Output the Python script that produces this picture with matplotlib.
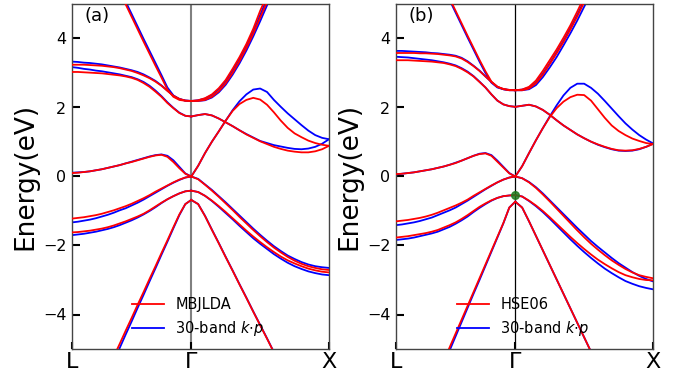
import numpy as np
import matplotlib
matplotlib.use("Agg")
import matplotlib.pyplot as plt
from matplotlib.lines import Line2D

nan = np.nan

# fractional distance from Gamma (0) to the zone edge (1), same grid on both sides
q = [0, .05, .1, .15, .2, .25, .3, .35, .4, .45, .5, .55, .6, .65, .7, .75, .8, .85, .9, .95, 1.0]
KL = 0.866  # |Gamma-L| / |Gamma-X|
k_labels = ["L", "Γ", "X"]
panel_tags = ["(a)", "(b)"]
legend_a = ["MBJLDA", r"30-band $k{\cdot}p$"]
legend_b = ["HSE06", r"30-band $k{\cdot}p$"]
green_point_b = -0.54

# ---------------- panel (a): Gamma -> L side ----------------
aL_c1_r = [2.19, 2.195, 2.22, 2.31, 2.52, 2.87, 3.21, 3.56, 3.91, 4.27, 4.63, 4.99, 5.35, nan, nan, nan, nan, nan, nan, nan, nan]
aL_c1_b = [2.19, 2.2, 2.24, 2.35, 2.58, 2.94, 3.29, 3.64, 3.99, 4.35, 4.71, 5.07, 5.43, nan, nan, nan, nan, nan, nan, nan, nan]
aL_A_r = [2.19, 2.2, 2.25, 2.34, 2.48, 2.63, 2.75, 2.85, 2.93, 3.0, 3.06, 3.1, 3.14, 3.17, 3.19, 3.21, 3.22, 3.23, 3.24, 3.24, 3.24]
aL_A_b = [2.19, 2.2, 2.25, 2.34, 2.49, 2.64, 2.77, 2.87, 2.96, 3.03, 3.08, 3.12, 3.16, 3.19, 3.22, 3.25, 3.27, 3.29, 3.3, 3.32, 3.33]
aL_B_r = [1.74, 1.76, 1.84, 1.98, 2.13, 2.31, 2.46, 2.6, 2.71, 2.8, 2.86, 2.9, 2.93, 2.95, 2.97, 2.99, 3.0, 3.01, 3.02, 3.03, 3.03]
aL_B_b = [1.74, 1.76, 1.85, 1.99, 2.15, 2.33, 2.49, 2.63, 2.74, 2.82, 2.88, 2.92, 2.96, 2.99, 3.02, 3.05, 3.07, 3.1, 3.12, 3.15, 3.17]
aL_D_r = [0, 0.08, 0.24, 0.42, 0.57, 0.63, 0.61, 0.57, 0.52, 0.47, 0.42, 0.38, 0.33, 0.29, 0.25, 0.21, 0.18, 0.15, 0.13, 0.11, 0.10]
aL_D_b = [0, 0.09, 0.28, 0.47, 0.6, 0.64, 0.62, 0.58, 0.53, 0.48, 0.43, 0.38, 0.33, 0.29, 0.25, 0.21, 0.18, 0.15, 0.13, 0.12, 0.11]
aL_HH_r = [0, -0.03, -0.09, -0.17, -0.26, -0.35, -0.44, -0.54, -0.63, -0.71, -0.79, -0.86, -0.92, -0.98, -1.03, -1.08, -1.12, -1.15, -1.18, -1.2, -1.22]
aL_HH_b = [0, -0.03, -0.1, -0.18, -0.27, -0.37, -0.47, -0.57, -0.67, -0.76, -0.84, -0.92, -0.98, -1.05, -1.11, -1.16, -1.21, -1.25, -1.28, -1.31, -1.33]
aL_LH_r = [-0.41, -0.43, -0.49, -0.57, -0.66, -0.76, -0.87, -0.98, -1.08, -1.16, -1.23, -1.3, -1.36, -1.42, -1.47, -1.51, -1.54, -1.57, -1.59, -1.61, -1.62]
aL_LH_b = [-0.41, -0.43, -0.49, -0.57, -0.66, -0.77, -0.89, -1.0, -1.1, -1.19, -1.27, -1.34, -1.41, -1.47, -1.52, -1.56, -1.6, -1.63, -1.66, -1.68, -1.70]
aL_SO_r = [-0.68, -0.8, -1.1, -1.47, -1.85, -2.22, -2.6, -2.97, -3.35, -3.72, -4.1, -4.47, -4.85, -5.22, nan, nan, nan, nan, nan, nan, nan]
aL_SO_b = [-0.68, -0.8, -1.12, -1.5, -1.89, -2.27, -2.66, -3.04, -3.43, -3.81, -4.2, -4.58, -4.97, -5.36, nan, nan, nan, nan, nan, nan, nan]

# ---------------- panel (a): Gamma -> X side ----------------
aX_c1_r = [2.19, 2.21, 2.27, 2.38, 2.56, 2.8, 3.12, 3.46, 3.84, 4.28, 4.8, 5.25, nan, nan, nan, nan, nan, nan, nan, nan, nan]
aX_c1_b = [2.19, 2.21, 2.26, 2.36, 2.53, 2.76, 3.07, 3.41, 3.78, 4.2, 4.68, 5.15, nan, nan, nan, nan, nan, nan, nan, nan, nan]
aX_c2_r = [2.19, 2.19, 2.22, 2.31, 2.47, 2.7, 3.0, 3.34, 3.72, 4.14, 4.6, 5.06, nan, nan, nan, nan, nan, nan, nan, nan, nan]
aX_c2_b = [2.19, 2.19, 2.21, 2.29, 2.44, 2.66, 2.95, 3.28, 3.65, 4.06, 4.5, 4.96, 5.4, nan, nan, nan, nan, nan, nan, nan, nan]
aX_B_r = [1.74, 1.78, 1.81, 1.77, 1.68, 1.57, 1.46, 1.34, 1.22, 1.12, 1.02, 0.94, 0.86, 0.8, 0.75, 0.72, 0.70, 0.7, 0.73, 0.79, 0.89]
aX_B_b = [1.74, 1.78, 1.81, 1.77, 1.68, 1.57, 1.46, 1.34, 1.23, 1.13, 1.03, 0.97, 0.91, 0.87, 0.83, 0.8, 0.79, 0.81, 0.86, 0.95, 1.08]
aX_C_r = [0, 0.31, 0.68, 1.01, 1.31, 1.62, 1.9, 2.1, 2.22, 2.28, 2.23, 2.08, 1.86, 1.62, 1.41, 1.25, 1.14, 1.04, 0.97, 0.92, 0.89]
aX_C_b = [0, 0.31, 0.68, 1.01, 1.31, 1.62, 1.92, 2.18, 2.38, 2.52, 2.55, 2.45, 2.22, 2.02, 1.83, 1.66, 1.49, 1.33, 1.2, 1.12, 1.08]
aX_HH_r = [0, -0.08, -0.24, -0.41, -0.59, -0.78, -0.97, -1.17, -1.36, -1.55, -1.73, -1.9, -2.06, -2.2, -2.33, -2.44, -2.53, -2.6, -2.65, -2.69, -2.71]
aX_HH_b = [0, -0.07, -0.23, -0.39, -0.57, -0.75, -0.94, -1.13, -1.32, -1.51, -1.69, -1.86, -2.02, -2.16, -2.29, -2.39, -2.48, -2.55, -2.6, -2.63, -2.65]
aX_LH_r = [-0.41, -0.45, -0.56, -0.70, -0.86, -1.03, -1.21, -1.39, -1.57, -1.74, -1.9, -2.05, -2.19, -2.32, -2.43, -2.52, -2.6, -2.67, -2.72, -2.76, -2.78]
aX_LH_b = [-0.41, -0.45, -0.56, -0.71, -0.88, -1.06, -1.24, -1.43, -1.61, -1.79, -1.95, -2.1, -2.25, -2.38, -2.5, -2.6, -2.68, -2.75, -2.8, -2.84, -2.86]
aX_SO_r = [-0.68, -0.8, -1.15, -1.55, -1.94, -2.34, -2.73, -3.13, -3.52, -3.92, -4.31, -4.7, -5.1, nan, nan, nan, nan, nan, nan, nan, nan]
aX_SO_b = [-0.68, -0.8, -1.14, -1.54, -1.93, -2.33, -2.72, -3.12, -3.51, -3.91, -4.3, -4.69, -5.09, nan, nan, nan, nan, nan, nan, nan, nan]

# ---------------- panel (b): Gamma -> L side ----------------
bL_c1_r = [2.5, 2.51, 2.54, 2.6, 2.75, 3.05, 3.38, 3.73, 4.08, 4.44, 4.8, 5.16, nan, nan, nan, nan, nan, nan, nan, nan, nan]
bL_c1_b = [2.5, 2.51, 2.53, 2.58, 2.72, 3.0, 3.33, 3.68, 4.03, 4.39, 4.75, 5.11, nan, nan, nan, nan, nan, nan, nan, nan, nan]
bL_A_r = [2.5, 2.5, 2.53, 2.6, 2.74, 2.9, 3.06, 3.2, 3.32, 3.42, 3.48, 3.51, 3.53, 3.55, 3.56, 3.57, 3.57, 3.58, 3.58, 3.58, 3.58]
bL_A_b = [2.5, 2.5, 2.53, 2.6, 2.74, 2.9, 3.07, 3.21, 3.34, 3.44, 3.5, 3.53, 3.55, 3.57, 3.58, 3.6, 3.61, 3.62, 3.63, 3.64, 3.64]
bL_B_r = [2.02, 2.04, 2.09, 2.2, 2.38, 2.58, 2.74, 2.9, 3.02, 3.12, 3.2, 3.25, 3.29, 3.31, 3.33, 3.34, 3.35, 3.36, 3.37, 3.37, 3.37]
bL_B_b = [2.02, 2.04, 2.09, 2.2, 2.38, 2.58, 2.75, 2.91, 3.04, 3.14, 3.22, 3.27, 3.31, 3.34, 3.37, 3.39, 3.41, 3.43, 3.45, 3.46, 3.47]
bL_D_r = [0, 0.09, 0.26, 0.43, 0.6, 0.67, 0.65, 0.6, 0.53, 0.46, 0.39, 0.34, 0.29, 0.25, 0.21, 0.18, 0.15, 0.12, 0.1, 0.08, 0.07]
bL_D_b = [0, 0.1, 0.28, 0.46, 0.62, 0.68, 0.66, 0.6, 0.53, 0.46, 0.4, 0.34, 0.29, 0.25, 0.21, 0.18, 0.15, 0.12, 0.1, 0.08, 0.06]
bL_HH_r = [0, -0.03, -0.09, -0.17, -0.26, -0.36, -0.46, -0.56, -0.67, -0.76, -0.84, -0.91, -0.98, -1.05, -1.11, -1.16, -1.2, -1.23, -1.26, -1.28, -1.3]
bL_HH_b = [0, -0.03, -0.09, -0.17, -0.27, -0.37, -0.48, -0.59, -0.7, -0.8, -0.9, -0.98, -1.05, -1.12, -1.19, -1.24, -1.29, -1.33, -1.36, -1.39, -1.41]
bL_LH_r = [-0.54, -0.55, -0.57, -0.62, -0.69, -0.78, -0.88, -1.0, -1.12, -1.23, -1.33, -1.41, -1.48, -1.55, -1.6, -1.64, -1.67, -1.7, -1.73, -1.75, -1.77]
bL_LH_b = [-0.54, -0.55, -0.57, -0.62, -0.7, -0.8, -0.91, -1.03, -1.16, -1.27, -1.37, -1.46, -1.53, -1.6, -1.65, -1.69, -1.73, -1.77, -1.8, -1.82, -1.84]
bL_SO_r = [-0.73, -0.9, -1.35, -1.75, -2.15, -2.55, -2.95, -3.35, -3.75, -4.15, -4.55, -4.95, -5.35, nan, nan, nan, nan, nan, nan, nan, nan]
bL_SO_b = [-0.73, -0.9, -1.36, -1.77, -2.18, -2.59, -3.0, -3.4, -3.81, -4.22, -4.63, -5.04, nan, nan, nan, nan, nan, nan, nan, nan, nan]

# ---------------- panel (b): Gamma -> X side ----------------
bX_c1_r = [2.5, 2.52, 2.6, 2.78, 3.06, 3.37, 3.68, 4.02, 4.38, 4.78, 5.2, nan, nan, nan, nan, nan, nan, nan, nan, nan, nan]
bX_c1_b = [2.5, 2.52, 2.58, 2.72, 2.98, 3.28, 3.6, 3.93, 4.3, 4.68, 5.1, nan, nan, nan, nan, nan, nan, nan, nan, nan, nan]
bX_c2_r = [2.5, 2.5, 2.55, 2.7, 2.95, 3.26, 3.57, 3.9, 4.26, 4.64, 5.05, nan, nan, nan, nan, nan, nan, nan, nan, nan, nan]
bX_c2_b = [2.5, 2.5, 2.53, 2.65, 2.88, 3.16, 3.46, 3.8, 4.15, 4.52, 4.92, 5.3, nan, nan, nan, nan, nan, nan, nan, nan, nan]
bX_B_r = [2.02, 2.05, 2.08, 2.03, 1.93, 1.79, 1.63, 1.48, 1.35, 1.22, 1.11, 1.01, 0.93, 0.86, 0.8, 0.76, 0.75, 0.76, 0.8, 0.86, 0.94]
bX_B_b = [2.02, 2.05, 2.08, 2.03, 1.93, 1.79, 1.63, 1.48, 1.35, 1.22, 1.11, 1.01, 0.92, 0.85, 0.79, 0.75, 0.74, 0.75, 0.79, 0.86, 0.95]
bX_C_r = [0, 0.3, 0.68, 1.05, 1.4, 1.72, 1.98, 2.17, 2.3, 2.37, 2.36, 2.2, 1.95, 1.7, 1.48, 1.32, 1.2, 1.1, 1.03, 0.97, 0.94]
bX_C_b = [0, 0.3, 0.68, 1.05, 1.4, 1.74, 2.06, 2.35, 2.57, 2.69, 2.69, 2.57, 2.4, 2.19, 1.97, 1.75, 1.54, 1.36, 1.2, 1.07, 0.96]
bX_HH_r = [0, -0.05, -0.17, -0.33, -0.52, -0.72, -0.93, -1.14, -1.35, -1.56, -1.76, -1.95, -2.12, -2.28, -2.43, -2.56, -2.68, -2.78, -2.86, -2.91, -2.95]
bX_HH_b = [0, -0.05, -0.16, -0.31, -0.49, -0.69, -0.89, -1.09, -1.29, -1.49, -1.68, -1.87, -2.04, -2.2, -2.36, -2.51, -2.64, -2.77, -2.88, -2.97, -3.04]
bX_LH_r = [-0.54, -0.58, -0.7, -0.84, -1.0, -1.18, -1.37, -1.56, -1.75, -1.93, -2.1, -2.26, -2.41, -2.54, -2.66, -2.77, -2.86, -2.92, -2.97, -3.0, -3.01]
bX_LH_b = [-0.54, -0.58, -0.71, -0.86, -1.03, -1.22, -1.42, -1.62, -1.82, -2.01, -2.19, -2.36, -2.52, -2.67, -2.8, -2.92, -3.03, -3.11, -3.18, -3.23, -3.27]
bX_SO_r = [-0.73, -0.9, -1.3, -1.72, -2.14, -2.56, -2.98, -3.4, -3.82, -4.24, -4.66, -5.08, nan, nan, nan, nan, nan, nan, nan, nan, nan]
bX_SO_b = [-0.73, -0.9, -1.3, -1.72, -2.14, -2.56, -2.98, -3.4, -3.82, -4.24, -4.66, -5.08, nan, nan, nan, nan, nan, nan, nan, nan, nan]

panels = [
    dict(L_red=[aL_c1_r, aL_A_r, aL_B_r, aL_D_r, aL_HH_r, aL_LH_r, aL_SO_r],
         L_blue=[aL_c1_b, aL_A_b, aL_B_b, aL_D_b, aL_HH_b, aL_LH_b, aL_SO_b],
         X_red=[aX_c1_r, aX_c2_r, aX_B_r, aX_C_r, aX_HH_r, aX_LH_r, aX_SO_r],
         X_blue=[aX_c1_b, aX_c2_b, aX_B_b, aX_C_b, aX_HH_b, aX_LH_b, aX_SO_b],
         legend=legend_a, tag=panel_tags[0], gline=dict(color="#808080", lw=1.5)),
    dict(L_red=[bL_c1_r, bL_A_r, bL_B_r, bL_D_r, bL_HH_r, bL_LH_r, bL_SO_r],
         L_blue=[bL_c1_b, bL_A_b, bL_B_b, bL_D_b, bL_HH_b, bL_LH_b, bL_SO_b],
         X_red=[bX_c1_r, bX_c2_r, bX_B_r, bX_C_r, bX_HH_r, bX_LH_r, bX_SO_r],
         X_blue=[bX_c1_b, bX_c2_b, bX_B_b, bX_C_b, bX_HH_b, bX_LH_b, bX_SO_b],
         legend=legend_b, tag=panel_tags[1], gline=dict(color="black", lw=0.9)),
]

RED = "#ff0000"
BLUE = "#0000ff"
LW = 1.3

fig = plt.figure(figsize=(6.88, 3.74), dpi=100)
ax_rects = [[72 / 688, 1 - 349 / 374, 257 / 688, 345 / 374],
            [396 / 688, 1 - 349 / 374, 257 / 688, 345 / 374]]
leg_x = [0.212, 0.216]

kq = np.array(q)
kL = -kq * KL
kX = kq

for i, (p, rect) in enumerate(zip(panels, ax_rects)):
    ax = fig.add_axes(rect)
    for band in p["L_blue"]:
        ax.plot(kL, band, color=BLUE, lw=LW, zorder=2, solid_joinstyle="round")
    for band in p["X_blue"]:
        ax.plot(kX, band, color=BLUE, lw=LW, zorder=2, solid_joinstyle="round")
    for band in p["L_red"]:
        ax.plot(kL, band, color=RED, lw=LW, zorder=3, solid_joinstyle="round")
    for band in p["X_red"]:
        ax.plot(kX, band, color=RED, lw=LW, zorder=3, solid_joinstyle="round")
    ax.axvline(0, zorder=1, **p["gline"])
    if i == 1:
        ax.plot([0], [green_point_b], "o", color="#1f7a1f", ms=5.5, alpha=0.85, zorder=5)
    ax.set_xlim(-KL, 1)
    ax.set_ylim(-5, 5)
    ax.set_xticks([-KL, 0, 1])
    ax.set_xticklabels(k_labels)
    ax.set_yticks([-4, -2, 0, 2, 4])
    ax.tick_params(axis="y", direction="in", length=6, width=1.5, labelsize=11.5,
                   left=True, right=False, pad=4)
    ax.tick_params(axis="x", direction="in", length=5, width=1.5, labelsize=16,
                   bottom=True, top=False, pad=2.5)
    for s in ax.spines.values():
        s.set_color("#444444")
        s.set_linewidth(1.0)
    ax.set_ylabel("Energy(eV)", fontsize=19, labelpad=3)
    ax.text(0.05, 0.965, p["tag"], transform=ax.transAxes, fontsize=13,
            ha="left", va="center")
    handles = [Line2D([], [], color=RED, lw=LW), Line2D([], [], color=BLUE, lw=LW)]
    ax.legend(handles, p["legend"], loc="lower left", bbox_to_anchor=(leg_x[i], 0.015),
              borderaxespad=0, frameon=False, fontsize=10.5, handlelength=2.2,
              handletextpad=0.75, labelspacing=0.45)

fig.savefig("out.png", dpi=100)
